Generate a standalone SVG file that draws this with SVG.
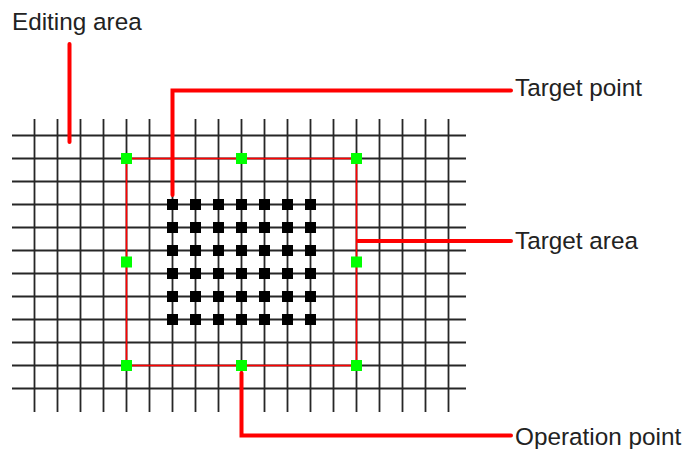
<svg xmlns="http://www.w3.org/2000/svg" width="684" height="449" viewBox="0 0 684 449">
<style>
.grid line{stroke:#262626;stroke-width:1.8}
.gp{fill:#00ff00}
.tp{fill:#000}
.callout{fill:none;stroke:#ff0000;stroke-width:4;stroke-linecap:round;stroke-linejoin:miter}
.lbl{font-family:"Liberation Sans",Arial,sans-serif;font-size:24.3px;fill:#222}
</style>
<rect width="684" height="449" fill="#fff"/>
<g id="editing-area" class="grid">
<line x1="12" y1="135.5" x2="466" y2="135.5"/>
<line x1="12" y1="158.5" x2="466" y2="158.5"/>
<line x1="12" y1="181.5" x2="466" y2="181.5"/>
<line x1="12" y1="204.5" x2="466" y2="204.5"/>
<line x1="12" y1="227.5" x2="466" y2="227.5"/>
<line x1="12" y1="250.5" x2="466" y2="250.5"/>
<line x1="12" y1="273.5" x2="466" y2="273.5"/>
<line x1="12" y1="296.5" x2="466" y2="296.5"/>
<line x1="12" y1="319.5" x2="466" y2="319.5"/>
<line x1="12" y1="342.5" x2="466" y2="342.5"/>
<line x1="12" y1="365.5" x2="466" y2="365.5"/>
<line x1="12" y1="388.5" x2="466" y2="388.5"/>
<line x1="34.5" y1="119" x2="34.5" y2="412"/>
<line x1="57.5" y1="119" x2="57.5" y2="412"/>
<line x1="80.5" y1="119" x2="80.5" y2="412"/>
<line x1="103.5" y1="119" x2="103.5" y2="412"/>
<line x1="126.5" y1="119" x2="126.5" y2="412"/>
<line x1="149.5" y1="119" x2="149.5" y2="412"/>
<line x1="172.5" y1="119" x2="172.5" y2="412"/>
<line x1="195.5" y1="119" x2="195.5" y2="412"/>
<line x1="218.5" y1="119" x2="218.5" y2="412"/>
<line x1="241.5" y1="119" x2="241.5" y2="412"/>
<line x1="264.5" y1="119" x2="264.5" y2="412"/>
<line x1="287.5" y1="119" x2="287.5" y2="412"/>
<line x1="310.5" y1="119" x2="310.5" y2="412"/>
<line x1="333.5" y1="119" x2="333.5" y2="412"/>
<line x1="356.5" y1="119" x2="356.5" y2="412"/>
<line x1="379.5" y1="119" x2="379.5" y2="412"/>
<line x1="402.5" y1="119" x2="402.5" y2="412"/>
<line x1="425.5" y1="119" x2="425.5" y2="412"/>
<line x1="448.5" y1="119" x2="448.5" y2="412"/>
</g>
<g id="target-area">
<rect x="126.5" y="158.5" width="230" height="207" fill="none" stroke="#ff0000" stroke-width="1.6"/>
</g>
<g id="target-points" class="tp">
<rect x="167" y="199" width="11" height="11"/><rect x="190" y="199" width="11" height="11"/><rect x="213" y="199" width="11" height="11"/><rect x="236" y="199" width="11" height="11"/><rect x="259" y="199" width="11" height="11"/><rect x="282" y="199" width="11" height="11"/><rect x="305" y="199" width="11" height="11"/>
<rect x="167" y="222" width="11" height="11"/><rect x="190" y="222" width="11" height="11"/><rect x="213" y="222" width="11" height="11"/><rect x="236" y="222" width="11" height="11"/><rect x="259" y="222" width="11" height="11"/><rect x="282" y="222" width="11" height="11"/><rect x="305" y="222" width="11" height="11"/>
<rect x="167" y="245" width="11" height="11"/><rect x="190" y="245" width="11" height="11"/><rect x="213" y="245" width="11" height="11"/><rect x="236" y="245" width="11" height="11"/><rect x="259" y="245" width="11" height="11"/><rect x="282" y="245" width="11" height="11"/><rect x="305" y="245" width="11" height="11"/>
<rect x="167" y="268" width="11" height="11"/><rect x="190" y="268" width="11" height="11"/><rect x="213" y="268" width="11" height="11"/><rect x="236" y="268" width="11" height="11"/><rect x="259" y="268" width="11" height="11"/><rect x="282" y="268" width="11" height="11"/><rect x="305" y="268" width="11" height="11"/>
<rect x="167" y="291" width="11" height="11"/><rect x="190" y="291" width="11" height="11"/><rect x="213" y="291" width="11" height="11"/><rect x="236" y="291" width="11" height="11"/><rect x="259" y="291" width="11" height="11"/><rect x="282" y="291" width="11" height="11"/><rect x="305" y="291" width="11" height="11"/>
<rect x="167" y="314" width="11" height="11"/><rect x="190" y="314" width="11" height="11"/><rect x="213" y="314" width="11" height="11"/><rect x="236" y="314" width="11" height="11"/><rect x="259" y="314" width="11" height="11"/><rect x="282" y="314" width="11" height="11"/><rect x="305" y="314" width="11" height="11"/>
</g>
<g id="operation-points" class="gp">
<rect x="121" y="153" width="11" height="11"/>
<rect x="236" y="153" width="11" height="11"/>
<rect x="351" y="153" width="11" height="11"/>
<rect x="121" y="256.5" width="11" height="11"/>
<rect x="351" y="256.5" width="11" height="11"/>
<rect x="121" y="360" width="11" height="11"/>
<rect x="236" y="360" width="11" height="11"/>
<rect x="351" y="360" width="11" height="11"/>
</g>
<g id="connectors" class="callout">
<path d="M69.5 44 V142"/>
<path d="M172.5 195 V90.5 H511"/>
<path d="M358 241 H511"/>
<path d="M241.5 373 V435.5 H511"/>
</g>
<g id="labels" class="lbl">
<text x="12" y="29.5">Editing area</text>
<text x="515" y="96">Target point</text>
<text x="515" y="248.5">Target area</text>
<text x="515" y="444.5">Operation point</text>
</g>
</svg>
